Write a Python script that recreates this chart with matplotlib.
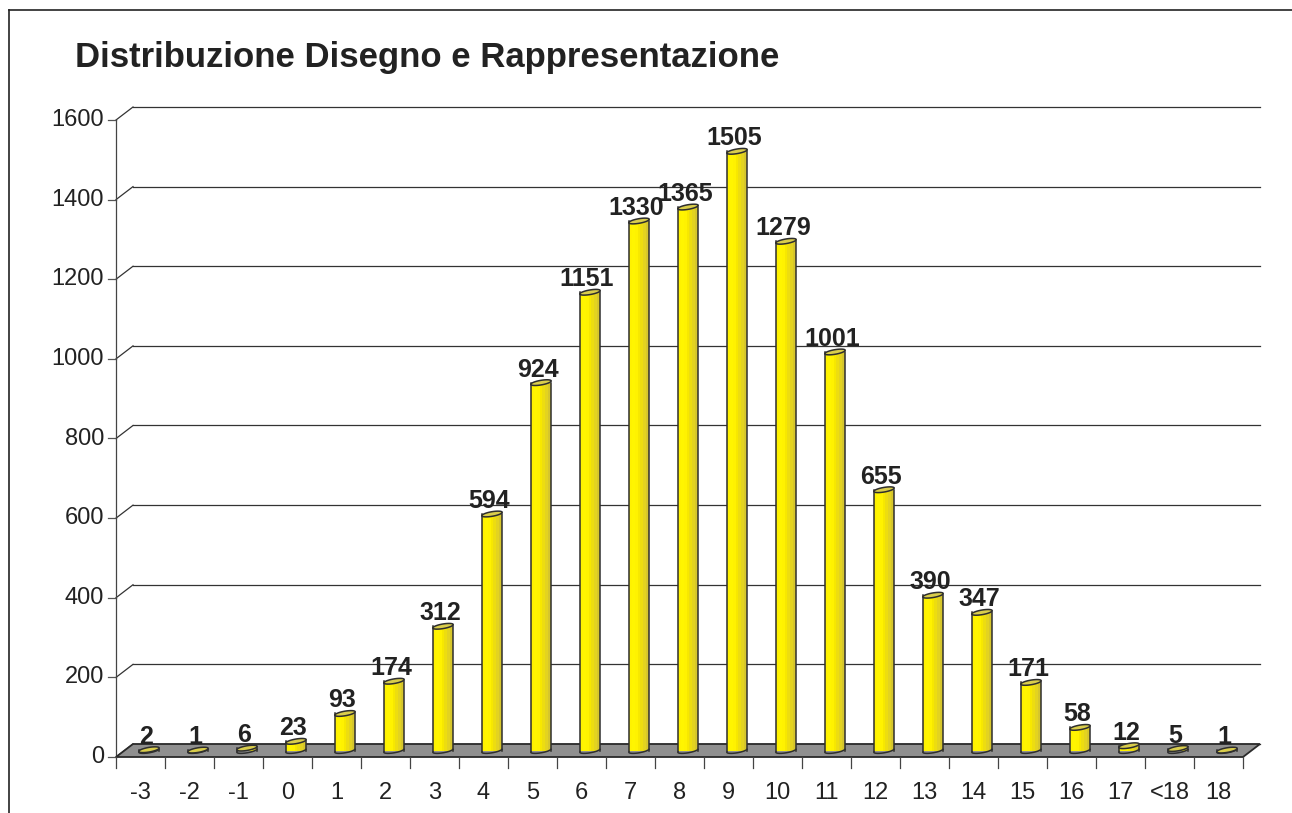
import matplotlib.pyplot as plt
import numpy as np
from matplotlib.patches import Polygon, Rectangle

categories = ['-3', '-2', '-1', '0', '1', '2', '3', '4', '5', '6', '7', '8',
              '9', '10', '11', '12', '13', '14', '15', '16', '17', '<18', '18']
counts = [2, 1, 6, 23, 93, 174, 312, 594, 924, 1151, 1330, 1365,
          1505, 1279, 1001, 655, 390, 347, 171, 58, 12, 5, 1]
yticks = [0, 200, 400, 600, 800, 1000, 1200, 1400, 1600]

plt.rcParams['font.family'] = ['Liberation Sans Narrow', 'Liberation Sans', 'DejaVu Sans']

fig = plt.figure(figsize=(12.92, 8.13), dpi=100)
ax = fig.add_axes([116 / 1292, 56 / 813, 1127 / 1292, 637 / 813])
n = len(categories)
ax.set_xlim(0, n)
ax.set_ylim(0, 1600)
ax.axis('off')

# depth of the fake 3d box, in data units (about 17 px right, 13 px up)
px = 1 / 49            # one pixel along x
py = 1600 / 637        # one pixel along y
ddx = 17 * px
ddy = 13 * py
edge = '#2e2e2e'

# back wall gridlines + the little diagonals joining them to the front axis
for t in yticks:
    ax.plot([ddx, n + ddx], [t + ddy, t + ddy], color='#333333', lw=0.9,
            clip_on=False, zorder=1)
    ax.plot([0, ddx], [t, t + ddy], color='#333333', lw=0.9, clip_on=False, zorder=1)
    ax.plot([-8 * px, 0], [t, t], color='#555555', lw=0.9, clip_on=False)
    ax.text(-12 * px, t, str(t), ha='right', va='center', fontsize=17,
            color='#222222', clip_on=False)

# front value axis
ax.plot([0, 0], [0, 1600], color='#444444', lw=0.9, clip_on=False, zorder=2)

# floor
floor = Polygon([(0, 0), (n, 0), (n + ddx, ddy), (ddx, ddy)], closed=True,
                facecolor='#8f8f8f', edgecolor='#2a2a2a', lw=1.3, zorder=2,
                clip_on=False)
ax.add_patch(floor)

# category ticks and labels
for k in range(n + 1):
    ax.plot([k, k], [0, -11 * py], color='#444444', lw=0.9, clip_on=False)
for i, lab in enumerate(categories):
    ax.text(i + 0.5, -36 * py, lab, ha='center', va='center', fontsize=17,
            color='#222222', clip_on=False)

# cylinders
w = 20 * px
r = w / 2
tt = np.linspace(0, 2 * np.pi, 60)
ell_x = r * np.cos(tt) + 2 * px * np.sin(tt)
ell_y = 2.6 * py * np.sin(tt) + 1.2 * py * np.cos(tt)
lo = np.linspace(np.pi, 2 * np.pi, 30)
shades = ['#fff200', '#fff500', '#fff200', '#f7e800', '#eddd10', '#e3d320', '#d6c62c']
for i, v in enumerate(counts):
    cx = i + 0.5 + ddx / 2
    by = ddy / 2
    top = by + v
    # body drawn as vertical strips for a rounded look
    sw = w / len(shades)
    for j, c in enumerate(shades):
        ax.add_patch(Rectangle((cx - r + j * sw, by), sw, v, facecolor=c,
                               edgecolor='none', zorder=3, clip_on=False))
    ax.plot([cx - r, cx - r], [by, top], color=edge, lw=1.1, zorder=4, clip_on=False)
    ax.plot([cx + r, cx + r], [by, top], color=edge, lw=1.1, zorder=4, clip_on=False)
    ax.plot(cx + r * np.cos(lo) + 2 * px * np.sin(lo),
            by + 2.6 * py * np.sin(lo) + 1.2 * py * np.cos(lo),
            color=edge, lw=1.1, zorder=4, clip_on=False)
    ax.add_patch(Polygon(np.column_stack([cx + ell_x, top + ell_y]), closed=True,
                         facecolor='#d9cd4c', edgecolor=edge, lw=1.1, zorder=5,
                         clip_on=False))
    ax.text(cx - 3 * px, top + 1 * py, str(v), ha='center', va='bottom', fontsize=18,
            fontweight='bold', color='#222222', zorder=6, clip_on=False)

fig.text(75 / 1292, 1 - 57 / 813, 'Distribuzione Disegno e Rappresentazione',
         ha='left', va='center', fontsize=25, fontweight='bold', color='#222222')

# chart frame (only top and left edges fall inside the image)
fig.add_artist(plt.Line2D([9 / 1292, 9 / 1292], [0, 1 - 10 / 813],
                          color='#222222', lw=1.2, transform=fig.transFigure))
fig.add_artist(plt.Line2D([9 / 1292, 1], [1 - 10 / 813, 1 - 10 / 813],
                          color='#222222', lw=1.2, transform=fig.transFigure))

fig.savefig('out.png', dpi=100, facecolor='white')
